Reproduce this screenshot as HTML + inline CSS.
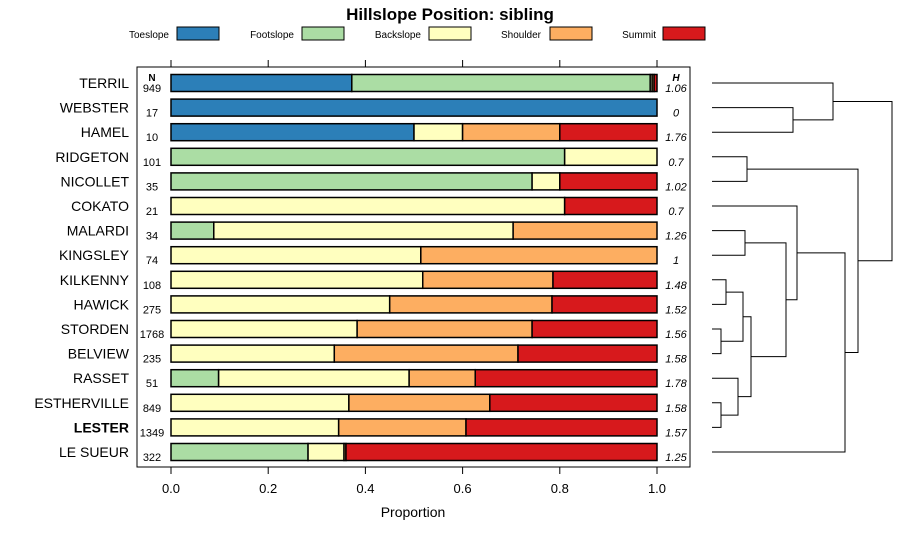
<!DOCTYPE html>
<html><head><meta charset="utf-8"><style>
body{margin:0;background:#fff;}
svg{display:block;font-family:"Liberation Sans",Arial,sans-serif;}
</style></head><body>
<svg id="chart" width="900" height="540" viewBox="0 0 900 540">
<text x="450" y="20" text-anchor="middle" font-size="17" font-weight="bold">Hillslope Position: sibling</text>
<g id="legend"></g>
<rect x="137" y="67" width="553" height="400" fill="none" stroke="#000"/>
<g id="axes"></g>
<g id="bars"></g>
<g id="dendro" stroke="#000" fill="none" stroke-width="1"></g>
<text x="413" y="517" text-anchor="middle" font-size="14">Proportion</text>
</svg>
<script>
const categories=["TERRIL","WEBSTER","HAMEL","RIDGETON","NICOLLET","COKATO","MALARDI","KINGSLEY","KILKENNY","HAWICK","STORDEN","BELVIEW","RASSET","ESTHERVILLE","LESTER","LE SUEUR"];
const nValues=[949,17,10,101,35,21,34,74,108,275,1768,235,51,849,1349,322];
const hValues=["1.06","0","1.76","0.7","1.02","0.7","1.26","1","1.48","1.52","1.56","1.58","1.78","1.58","1.57","1.25"];
const seriesNames=["Toeslope","Footslope","Backslope","Shoulder","Summit"];
const toeslope=[0.372,1,0.5,0,0,0,0,0,0,0,0,0,0,0,0,0];
const footslope=[0.614,0,0,0.81,0.743,0,0.088,0,0,0,0,0,0.098,0,0,0.282];
const backslope=[0.004,0,0.1,0.19,0.057,0.81,0.616,0.514,0.518,0.45,0.383,0.336,0.392,0.366,0.345,0.074];
const shoulder=[0.004,0,0.2,0,0,0,0.296,0.486,0.268,0.334,0.36,0.378,0.136,0.29,0.262,0.004];
const summit=[0.006,0,0.2,0,0.2,0.19,0,0,0.214,0.216,0.257,0.286,0.374,0.344,0.393,0.64];
const xTicks=[0,0.2,0.4,0.6,0.8,1.0];
const xTickLabels=["0.0","0.2","0.4","0.6","0.8","1.0"];
// dendrogram merges: [left, right, height]; negative = leaf index (-(i+1)), positive = merge number (1-based)
const merges=[[-2,-3,793],[-1,1,833],[-4,-5,747],[-7,-8,745],[-9,-10,726],[-11,-12,721],[5,6,743],[-14,-15,721],[-13,8,738],[7,9,751],[4,10,786],[-6,11,797],[12,-16,845],[3,13,858],[2,14,892]];
const colors=["#2c7fb8","#abdda4","#ffffbf","#fdae61","#d7191c"];
const series=[toeslope,footslope,backslope,shoulder,summit];
const NS="http://www.w3.org/2000/svg";
function mk(tag,attrs,parent){const e=document.createElementNS(NS,tag);for(const k in attrs)e.setAttribute(k,attrs[k]);parent.appendChild(e);return e;}
const x0=171,x1=657;
function xs(v){return x0+(x1-x0)*v;}
function ys(i){return 83+i*24.6;}
const bh=17;
// legend
const legG=document.getElementById('legend');
const legTextEnd=[169,294,421,541,656],legBox=[177,302,429,550,663];
seriesNames.forEach((s,i)=>{
 const t=mk('text',{x:legTextEnd[i],y:38,'text-anchor':'end','font-size':10},legG);t.textContent=s;
 
 
 const r=mk('rect',{x:legBox[i],y:27,width:42,height:13,fill:colors[i],stroke:'#000','stroke-width':1},legG);
 
 
});
// axes
const axG=document.getElementById('axes');
xTicks.forEach((v,i)=>{
 const x=xs(v);
 const a=mk('line',{x1:x,x2:x,y1:60,y2:67,stroke:'#000'},axG);
 
 
 const b=mk('line',{x1:x,x2:x,y1:467,y2:474,stroke:'#000'},axG);
 
 
 const t=mk('text',{x:x,y:493,'text-anchor':'middle','font-size':13},axG);t.textContent=xTickLabels[i];
 
 
});
// bars
const bG=document.getElementById('bars');
let t=mk('text',{x:152,y:81,'text-anchor':'middle','font-size':10,'font-weight':'bold'},bG);t.textContent='N';


t=mk('text',{x:676,y:81,'text-anchor':'middle','font-size':10,'font-weight':'bold','font-style':'italic'},bG);t.textContent='H';


categories.forEach((c,i)=>{
 const y=ys(i);
 const l=mk('text',{x:129,y:y+5,'text-anchor':'end','font-size':14,'font-weight':c==='LESTER'?'bold':'normal'},bG);l.textContent=c;
 
 
 const n=mk('text',{x:152,y:y+9,'text-anchor':'middle','font-size':11},bG);n.textContent=nValues[i];
 
 
 const h=mk('text',{x:676,y:y+9,'text-anchor':'middle','font-size':11,'font-style':'italic'},bG);h.textContent=hValues[i];
 
 
 let cum=0;
 series.forEach((s,j)=>{
  const v=s[i];if(v<=0)return;
  const r=mk('rect',{x:xs(cum),y:y-bh/2,width:xs(cum+v)-xs(cum),height:bh,fill:colors[j],stroke:'#000','stroke-width':1.5},bG);
  
  
  cum+=v;
 });
});
// dendrogram
const dG=document.getElementById('dendro');
const leafX=712;
const nodes=[];
function info(id){if(id<0)return {x:leafX,y:ys(-id-1)};return nodes[id-1];}
merges.forEach(m=>{
 const a=info(m[0]),b=info(m[1]),h=m[2];
 const p=mk('path',{d:`M${a.x},${a.y}H${h}V${b.y}H${b.x}`},dG);
 
 
 nodes.push({x:h,y:(a.y+b.y)/2});
});
</script>
</body></html>
